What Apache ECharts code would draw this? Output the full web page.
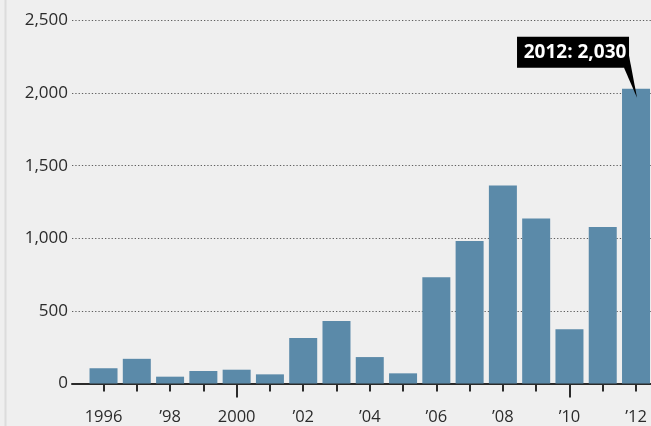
<!DOCTYPE html>
<html>
<head>
<meta charset="utf-8">
<script src="https://cdn.jsdelivr.net/npm/echarts@6/dist/echarts.min.js"></script>
<style>
  html, body { margin: 0; padding: 0; background: #efefef; }
  #chart { width: 651px; height: 426px; }
</style>
</head>
<body>
<div id="chart"></div>
<script>
// Yearly counts, 1996–2012
const years = [1996, 1997, 1998, 1999, 2000, 2001, 2002, 2003, 2004, 2005, 2006, 2007, 2008, 2009, 2010, 2011, 2012];
const counts = [105, 170, 47, 86, 95, 63, 314, 431, 182, 70, 732, 982, 1364, 1137, 374, 1078, 2030];

// Axis ticks and labels
const yTicks = [0, 500, 1000, 1500, 2000, 2500];
const labelYears = [1996, 1998, 2000, 2002, 2004, 2006, 2008, 2010, 2012];
const decadeYears = [2000, 2010];
const highlightIndex = counts.length - 1;

const FONT = '"Open Sans", "Noto Sans", sans-serif';
const INK = '#2b2b2b';

function yearLabel(v) {
  const y = Math.round(v);
  if (y % 100 === 0 || y === years[0]) return String(y);
  return '\u2019' + String(y).slice(2);
}

const chart = echarts.init(document.getElementById('chart'), null, { renderer: 'canvas' });

chart.setOption({
  backgroundColor: '#efefef',
  animation: false,
  grid: { left: 72, right: 0, top: 20.5, bottom: 42.5, containLabel: false },
  xAxis: [
    {
      type: 'value',
      position: 'bottom',
      offset: 0,
      min: years[0] - 0.947,
      max: years[years.length - 1] + 0.45,
      splitLine: { show: false },
      axisLine: { show: true, onZero: false, lineStyle: { color: INK, width: 2 } },
      axisTick: { show: true, customValues: years, length: 8, lineStyle: { color: INK, width: 2 } },
      axisLabel: {
        show: true,
        customValues: labelYears,
        formatter: yearLabel,
        margin: 25,
        color: INK,
        fontFamily: FONT,
        fontSize: 16.5
      }
    },
    {
      type: 'value',
      position: 'bottom',
      offset: 0,
      min: years[0] - 0.947,
      max: years[years.length - 1] + 0.45,
      splitLine: { show: false },
      axisLine: { show: false },
      axisTick: { show: true, customValues: decadeYears, length: 14, lineStyle: { color: INK, width: 2 } },
      axisLabel: { show: false }
    }
  ],
  yAxis: {
    type: 'value',
    min: yTicks[0],
    max: yTicks[yTicks.length - 1],
    interval: yTicks[1] - yTicks[0],
    axisLine: { show: false },
    axisTick: { show: false },
    splitLine: { show: true, lineStyle: { color: '#5e5e5e', width: 1, type: [1.3, 2] } },
    axisLabel: {
      margin: 4,
      color: INK,
      fontFamily: FONT,
      fontSize: 17
    ,
      formatter: v => v.toLocaleString('en-US')
    }
  },
  series: [{
    type: 'bar',
    xAxisIndex: 0,
    yAxisIndex: 0,
    barWidth: 28,
    itemStyle: { color: '#5b8aa9' },
    data: years.map((y, i) => [y, counts[i]]),
    z: 2
  }]
});

// Callout box for the latest year, anchored to its bar top
const [px, py] = chart.convertToPixel({ xAxisIndex: 0, yAxisIndex: 0 }, [years[highlightIndex], counts[highlightIndex]]);
chart.setOption({
  graphic: [
    {
      type: 'line',
      shape: { x1: 5.5, y1: 0, x2: 5.5, y2: 426 },
      style: { stroke: '#dcdcdc', lineWidth: 2 },
      silent: true
    },
    {
      type: 'polygon',
      shape: { points: [[px - 12, py - 21], [px - 7, py - 33], [px + 1, py + 9]] },
      style: { fill: '#000' },
      z: 10
    },
    {
      type: 'rect',
      shape: { x: px - 119, y: py - 52, width: 112, height: 31 },
      style: { fill: '#000' },
      z: 10
    },
    {
      type: 'text',
      x: px - 61,
      y: py - 36.5,
      style: {
        text: years[highlightIndex] + ': ' + counts[highlightIndex].toLocaleString('en-US'),
        fill: '#fff',
        font: 'bold 19px ' + FONT,
        align: 'center',
        verticalAlign: 'middle'
      },
      z: 11
    }
  ]
});
</script>
</body>
</html>
